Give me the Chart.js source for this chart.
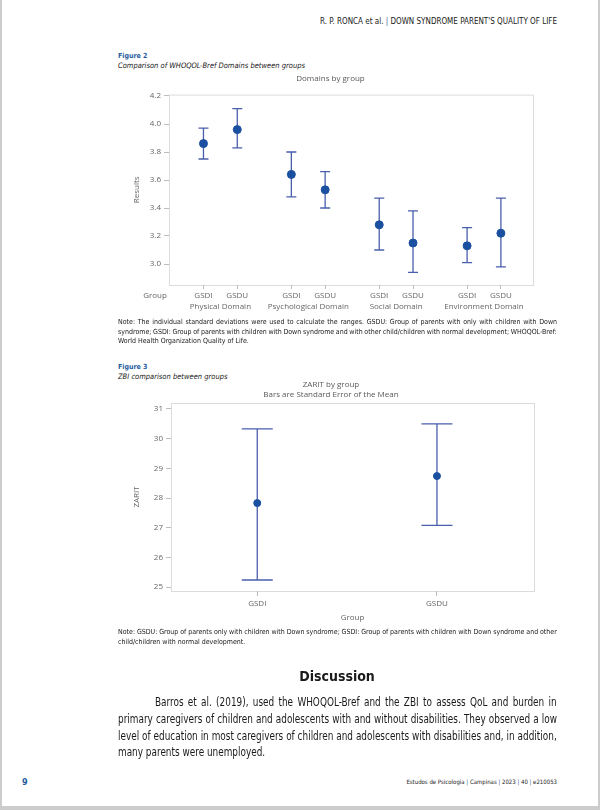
<!DOCTYPE html>
<html>
<head>
<meta charset="utf-8">
<script src="https://cdn.jsdelivr.net/npm/chart.js@4.4.1/dist/chart.umd.min.js"></script>
<style>
  body { margin: 0; width: 600px; height: 810px; background: #cccccc; position: relative; overflow: hidden; }
  .page { position: absolute; left: 2px; top: 0; width: 596px; height: 806px; background: #fff; }
  .t { position: absolute; white-space: nowrap; color: #1a1a1a; font-family: "Liberation Sans Narrow", "DejaVu Sans Condensed", "Open Sans", sans-serif; line-height: 10px; height: 10px; }
  .p { height: 14px; line-height: 14px; font-size: 11.5px; transform: scaleX(0.86); transform-origin: 0 50%; }
  canvas { position: absolute; }
</style>
</head>
<body>
<div class="page"></div>

<div class="t" style="right:43px; top:17px; font-size:8px">R. P. RONCA et al. <span style="color:#2a5a9c">|</span> DOWN SYNDROME PARENT'S QUALITY OF LIFE</div>

<div class="t" style="left:118px; top:51px; font-size:7px; font-weight:bold; color:#1f5c9e">Figure 2</div>
<div class="t" style="left:118px; top:61px; font-size:7.5px; font-style:italic">Comparison of WHOQOL-Bref Domains between groups</div>

<canvas id="chartDomains" width="450" height="250" style="left:100px; top:68px"></canvas>

<div class="t j" data-w="439" style="left:118px; top:317px; font-size:7px">Note: The individual standard deviations were used to calculate the ranges. GSDU: Group of parents with only with children with Down</div>
<div class="t j" data-w="439" style="left:118px; top:326.5px; font-size:7px">syndrome; GSDI: Group of parents with children with Down syndrome and with other child/children with normal development; WHOQOL-Bref:</div>
<div class="t" style="left:118px; top:336px; font-size:7px">World Health Organization Quality of Life.</div>

<div class="t" style="left:118px; top:362px; font-size:7px; font-weight:bold; color:#1f5c9e">Figure 3</div>
<div class="t" style="left:118px; top:372px; font-size:7.5px; font-style:italic">ZBI comparison between groups</div>

<canvas id="chartZarit" width="450" height="250" style="left:100px; top:378px"></canvas>

<div class="t j" data-w="439" style="left:118px; top:627px; font-size:7px">Note: GSDU: Group of parents only with children with Down syndrome; GSDI: Group of parents with children with Down syndrome and other</div>
<div class="t" style="left:118px; top:637px; font-size:7px">child/children with normal development.</div>

<div class="t" style="left:287px; width:100px; text-align:center; top:669px; height:14px; line-height:14px; font-size:14px; font-weight:bold">Discussion</div>

<div class="t p j" data-w="402" style="left:155px; top:695px">Barros et al. (2019), used the WHOQOL-Bref and the ZBI to assess QoL and burden in</div>
<div class="t p j" data-w="439" style="left:118px; top:712px">primary caregivers of children and adolescents with and without disabilities. They observed a low</div>
<div class="t p j" data-w="439" style="left:118px; top:729px">level of education in most caregivers of children and adolescents with disabilities and, in addition,</div>
<div class="t p" style="left:118px; top:745px">many parents were unemployed.</div>

<div class="t" style="left:22px; top:777px; font-size:9px; font-weight:bold; color:#1f5c9e">9</div>
<div class="t" style="right:43px; top:777px; font-size:6px">Estudos de Psicologia <span style="color:#2a5a9c">|</span> Campinas <span style="color:#2a5a9c">|</span> 2023 <span style="color:#2a5a9c">|</span> 40 <span style="color:#2a5a9c">|</span> e210053</div>

<script>
// Figure 2 data
const domains = ['Physical Domain', 'Psychological Domain', 'Social Domain', 'Environment Domain'];
const groups = ['GSDI', 'GSDU'];
const gsdiMean = [3.86, 3.64, 3.28, 3.13];
const gsdiLow = [3.75, 3.48, 3.10, 3.01];
const gsdiHigh = [3.97, 3.80, 3.47, 3.26];
const gsduMean = [3.96, 3.53, 3.15, 3.22];
const gsduLow = [3.83, 3.40, 2.94, 2.98];
const gsduHigh = [4.11, 3.66, 3.38, 3.47];
const domainTicks = [3.0, 3.2, 3.4, 3.6, 3.8, 4.0, 4.2];

// Figure 3 data
const zaritGroups = ['GSDI', 'GSDU'];
const zaritMean = [27.83, 28.74];
const zaritLow = [25.24, 27.08];
const zaritHigh = [30.33, 30.50];
const zaritTicks = [25, 26, 27, 28, 29, 30, 31];

// stretch justified lines to their column width (paragraph lines are squeezed by scaleX)
document.querySelectorAll('.j').forEach(el => {
    const target = parseFloat(el.dataset.w);
    const scale = el.classList.contains('p') ? 0.86 : 1;
    const spaces = (el.textContent.match(/ /g) || []).length;
    const natural = el.offsetWidth;
    el.style.wordSpacing = ((target / scale - natural) / spaces) + 'px';
});

Chart.defaults.font.family = "'Open Sans', sans-serif";
Chart.defaults.font.size = 8;
Chart.defaults.color = '#666';

const pointColor = '#1b4fa0';
const barColor = '#4a5fac';
const groupGap = 2.6;

function errorBars(lows, highs, capWidth) {
    return {
        id: 'errorBars',
        beforeDatasetsDraw(chart) {
            const ctx = chart.ctx;
            const y = chart.scales.y;
            const meta = chart.getDatasetMeta(0);
            ctx.save();
            ctx.strokeStyle = barColor;
            ctx.lineWidth = 1.3;
            meta.data.forEach((el, i) => {
                const top = y.getPixelForValue(highs[i]);
                const bottom = y.getPixelForValue(lows[i]);
                ctx.beginPath();
                ctx.moveTo(el.x, top);
                ctx.lineTo(el.x, bottom);
                ctx.moveTo(el.x - capWidth / 2, top);
                ctx.lineTo(el.x + capWidth / 2, top);
                ctx.moveTo(el.x - capWidth / 2, bottom);
                ctx.lineTo(el.x + capWidth / 2, bottom);
                ctx.stroke();
            });
            ctx.restore();
        }
    };
}

const frame = {
    id: 'frame',
    beforeDraw(chart) {
        const a = chart.chartArea;
        const ctx = chart.ctx;
        ctx.save();
        ctx.strokeStyle = '#dcdcdc';
        ctx.lineWidth = 1;
        ctx.strokeRect(a.left + 0.5, a.top + 0.5, a.right - a.left, a.bottom - a.top);
        ctx.restore();
    }
};

// build figure 2 points
const domainPoints = [];
const domainLows = [];
const domainHighs = [];
const domainPos = [];
const posLabels = {};
const centerLabels = {};
domains.forEach((d, g) => {
    [[gsdiMean, gsdiLow, gsdiHigh], [gsduMean, gsduLow, gsduHigh]].forEach((s, k) => {
        const x = g * groupGap + k;
        domainPoints.push({ x: x, y: s[0][g] });
        domainLows.push(s[1][g]);
        domainHighs.push(s[2][g]);
        domainPos.push(x);
        posLabels[x] = groups[k];
    });
    centerLabels[g * groupGap + 0.5] = d;
});

const tickGrid = { display: true, drawOnChartArea: false, drawTicks: true, tickLength: 5, color: '#bdbdbd' };

new Chart(document.getElementById('chartDomains').getContext('2d'), {
    type: 'scatter',
    data: {
        datasets: [{
            data: domainPoints,
            backgroundColor: pointColor,
            borderColor: pointColor,
            pointRadius: 4,
            showLine: false
        }]
    },
    options: {
        responsive: false,
        animation: false,
        layout: { padding: { left: 28, right: 17, top: 0, bottom: 0 } },
        plugins: {
            legend: { display: false },
            tooltip: { enabled: false },
            title: {
                display: true,
                text: 'Domains by group',
                color: '#595959',
                font: { size: 8, weight: 'normal' },
                padding: { top: 6, bottom: 11 }
            }
        },
        scales: {
            x: {
                type: 'linear',
                min: -1.02,
                max: 3 * groupGap + 1.95,
                afterBuildTicks: s => { s.ticks = domainPos.map(v => ({ value: v })); },
                afterFit: s => { s.height = 17; },
                ticks: { autoSkip: false, maxRotation: 0, padding: 2, callback: v => posLabels[v] },
                grid: { ...tickGrid, tickLength: 4 },
                border: { display: false }
            },
            x2: {
                type: 'linear',
                position: 'bottom',
                min: -1.02,
                max: 3 * groupGap + 1.95,
                afterBuildTicks: s => { s.ticks = domains.map((d, g) => ({ value: g * groupGap + 0.5 })); },
                afterFit: s => { s.height = 16; },
                ticks: { autoSkip: false, maxRotation: 0, padding: 0, callback: v => centerLabels[v] },
                grid: { display: false, drawTicks: false },
                border: { display: false }
            },
            y: {
                min: 2.85,
                max: 4.21,
                afterBuildTicks: s => { s.ticks = domainTicks.map(v => ({ value: v })); },
                afterFit: s => { s.width = 41; },
                ticks: { callback: v => v.toFixed(1) },
                grid: tickGrid,
                border: { display: false },
                title: { display: true, text: 'Results', color: '#666', font: { size: 8 }, padding: { top: 4, bottom: 4 } }
            }
        }
    },
    plugins: [frame, errorBars(domainLows, domainHighs, 10), {
        id: 'groupLabel',
        afterDraw(chart) {
            const ctx = chart.ctx;
            ctx.save();
            ctx.fillStyle = '#666';
            ctx.font = "8px 'Open Sans', sans-serif";
            ctx.textAlign = 'center';
            ctx.textBaseline = 'middle';
            ctx.fillText('Group', chart.chartArea.left - 14, chart.scales.x.top + 11);
            ctx.restore();
        }
    }]
});

new Chart(document.getElementById('chartZarit').getContext('2d'), {
    type: 'scatter',
    data: {
        datasets: [{
            data: zaritMean.map((m, i) => ({ x: i, y: m })),
            backgroundColor: pointColor,
            borderColor: pointColor,
            pointRadius: 3.5,
            showLine: false
        }]
    },
    options: {
        responsive: false,
        animation: false,
        layout: { padding: { left: 28, right: 16, top: 0, bottom: 0 } },
        plugins: {
            legend: { display: false },
            tooltip: { enabled: false },
            title: {
                display: true,
                text: ['ZARIT by group', 'Bars are Standard Error of the Mean'],
                color: '#595959',
                font: { size: 8, weight: 'normal', lineHeight: 1.25 },
                padding: { top: 2, bottom: 3 }
            }
        },
        scales: {
            x: {
                type: 'linear',
                min: -0.48,
                max: 1.54,
                afterBuildTicks: s => { s.ticks = zaritGroups.map((g, i) => ({ value: i })); },
                afterFit: s => { s.height = 37; },
                ticks: { autoSkip: false, maxRotation: 0, padding: 3, callback: v => zaritGroups[v] },
                grid: tickGrid,
                border: { display: false },
                title: { display: true, text: 'Group', color: '#666', font: { size: 8 }, padding: { top: 5, bottom: 5 } }
            },
            y: {
                min: 24.87,
                max: 31.2,
                afterBuildTicks: s => { s.ticks = zaritTicks.map(v => ({ value: v })); },
                afterFit: s => { s.width = 43; },
                grid: tickGrid,
                border: { display: false },
                title: { display: true, text: 'ZARIT', color: '#666', font: { size: 8 }, padding: { top: 4, bottom: 4 } }
            }
        }
    },
    plugins: [frame, errorBars(zaritLow, zaritHigh, 31)]
});
</script>
</body>
</html>
